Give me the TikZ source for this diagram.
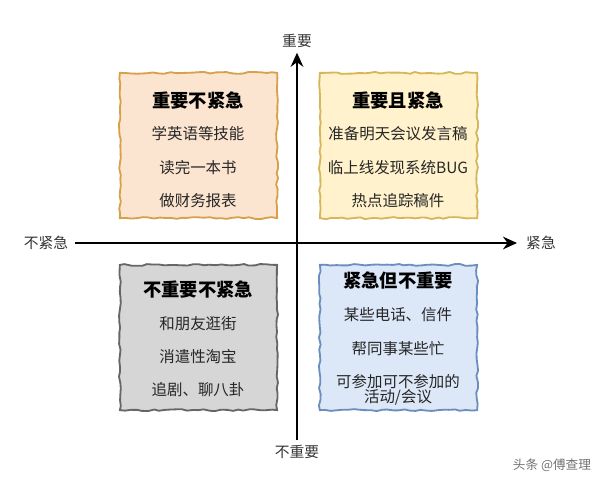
\documentclass[tikz,border=0pt]{standalone}
\usepackage{fontspec}
\setmainfont{Noto Sans CJK SC}
\usetikzlibrary{arrows.meta, positioning, decorations.pathmorphing}
\definecolor{peachFill}{HTML}{FCE5D0}
\definecolor{peachLine}{HTML}{D7A04A}
\definecolor{sandFill}{HTML}{FFF2CC}
\definecolor{sandLine}{HTML}{D6B656}
\definecolor{greyFill}{HTML}{D6D6D6}
\definecolor{greyLine}{HTML}{666666}
\definecolor{skyFill}{HTML}{DCE7F8}
\definecolor{skyLine}{HTML}{6C8EBF}

\begin{document}
\pgfmathsetseed{7}
\begin{tikzpicture}[
  x=0.025cm, y=-0.025cm,
  quad/.style={rectangle, line width=1.3pt,
               minimum width=3.93cm, minimum height=3.63cm,
               decoration={random steps, segment length=4pt, amplitude=0.7pt},
               decorate},
  head/.style={font=\fontsize{13}{15}\selectfont\bfseries, text=black},
  item/.style={font=\fontsize{11}{13.5}\selectfont, text=black!85, align=center},
  axlab/.style={font=\fontsize{10.5}{12}\selectfont, text=black!80},
  axis/.style={line width=1.4pt, -{Stealth[length=10pt, width=9pt]}}
]
  \useasboundingbox (0,0) rectangle (600,485);

  %% Quadrants
  \node[quad, fill=peachFill, draw=peachLine] (qtl) at (198.5,145.5) {};
  \node[quad, fill=sandFill,  draw=sandLine]  (qtr) at (398.5,145.5) {};
  \node[quad, fill=greyFill,  draw=greyLine]  (qbl) at (198.5,337.5) {};
  \node[quad, fill=skyFill,   draw=skyLine]   (qbr) at (398.5,337.5) {};

  %% Top left: important, not urgent
  \node[head] (tl0) at (198,101) {重要不紧急};
  \node[item] (tl1) at (198,134) {学英语等技能};
  \node[item] (tl2) at (198,168) {读完一本书};
  \node[item] (tl3) at (198,201) {做财务报表};

  %% Top right: important and urgent
  \node[head] (tr0) at (398,101) {重要且紧急};
  \node[item] (tr1) at (398,134) {准备明天会议发言稿};
  \node[item] (tr2) at (398,168) {临上线发现系统BUG};
  \node[item] (tr3) at (398,201) {热点追踪稿件};

  %% Bottom left: neither
  \node[head] (bl0) at (198,290) {不重要不紧急};
  \node[item] (bl1) at (198,324) {和朋友逛街};
  \node[item] (bl2) at (198,357) {消遣性淘宝};
  \node[item] (bl3) at (198,390) {追剧、聊八卦};

  %% Bottom right: urgent, not important
  \node[head] (br0) at (398,281) {紧急但不重要};
  \node[item] (br1) at (398,315) {某些电话、信件};
  \node[item] (br2) at (398,349) {帮同事某些忙};
  \node[item] (br3) at (398,390) {可参加可不参加的\\[-3pt]活动/会议};

  %% Axes
  \node[axlab] (imp)    at (297,41)  {重要};
  \node[axlab] (notimp) at (297,452) {不重要};
  \node[axlab] (noturg) at (46,243)  {不紧急};
  \node[axlab] (urg)    at (541,243) {紧急};

  \draw[axis] (notimp.north) -- (imp.south);
  \draw[axis] ([xshift=1pt]noturg.east) -- ([xshift=-3pt]urg.west);

  %% Watermark
  \node[font=\fontsize{9}{11}\selectfont, text=black!55] (mark) at (552,465) {头条 @傅查理};
\end{tikzpicture}
\end{document}
